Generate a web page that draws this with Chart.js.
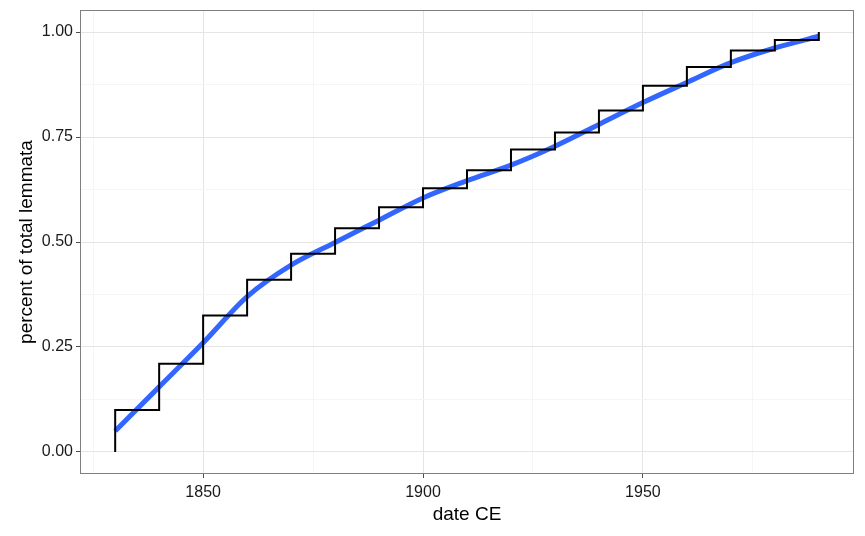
<!DOCTYPE html>
<html lang="en">
<head>
  <meta charset="UTF-8">
  <title>Lemmata by date</title>
  <script src="https://cdn.jsdelivr.net/npm/chart.js"></script>
  <style>
    html, body { margin: 0; padding: 0; background: #fff; }
    #wrap { width: 865px; height: 536px; }
  </style>
</head>
<body>
  <div id="wrap"><canvas id="chart" width="865" height="536"></canvas></div>

  <script>
    // decade steps of the cumulative share
    const years = [1830, 1840, 1850, 1860, 1870, 1880, 1890, 1900, 1910, 1920, 1930, 1940, 1950, 1960, 1970, 1980, 1990];
    const share = [0.10, 0.21, 0.325, 0.41, 0.472, 0.533, 0.583, 0.628, 0.671, 0.72, 0.761, 0.813, 0.872, 0.917, 0.956, 0.981, 1.00];
    // smoothed curve, read at the same years
    const smooth = [0.05, 0.155, 0.26, 0.37, 0.445, 0.499, 0.552, 0.605, 0.646, 0.683, 0.728, 0.78, 0.832, 0.88, 0.927, 0.962, 0.99];

    const xMajor = [1850, 1900, 1950];
    const xMinor = [1825, 1875, 1925, 1975];
    const yMajor = [0, 0.25, 0.5, 0.75, 1];
    const yMinor = [0.125, 0.375, 0.625, 0.875];

    const stepData = [{ x: years[0], y: 0 }].concat(years.map((x, i) => ({ x: x, y: share[i] })));
    const smoothData = years.map((x, i) => ({ x: x, y: smooth[i] }));

    const family = "'Liberation Sans', Arial, sans-serif";

    const panelBorder = {
      id: 'panelBorder',
      afterDatasetsDraw(chart) {
        const a = chart.chartArea, ctx = chart.ctx;
        ctx.save();
        ctx.strokeStyle = '#7f7f7f';
        ctx.lineWidth = 1;
        ctx.strokeRect(a.left + 0.5, a.top + 0.5, a.right - a.left - 1, a.bottom - a.top - 1);
        ctx.restore();
      }
    };

    function isMajor(list, v) {
      return list.some(m => Math.abs(m - v) < 1e-9);
    }

    new Chart(document.getElementById('chart'), {
      type: 'line',
      data: {
        datasets: [
          {
            data: stepData,
            stepped: 'before',
            borderColor: '#000000',
            borderWidth: 2,
            pointRadius: 0,
            fill: false
          },
          {
            data: smoothData,
            cubicInterpolationMode: 'monotone',
            borderColor: '#3366FF',
            borderWidth: 5,
            pointRadius: 0,
            fill: false
          }
        ]
      },
      options: {
        responsive: false,
        animation: false,
        layout: { padding: { left: 0, top: 10, right: 11, bottom: 0 } },
        plugins: { legend: { display: false }, tooltip: { enabled: false } },
        scales: {
          x: {
            type: 'linear',
            min: 1822,
            max: 1998,
            afterBuildTicks: s => { s.ticks = xMinor.concat(xMajor).sort((a, b) => a - b).map(v => ({ value: v })); },
            afterFit: s => { s.height = 62; s.paddingLeft = 0; s.paddingRight = 0; },
            border: { display: false },
            grid: {
              color: c => isMajor(xMajor, c.tick.value) ? '#e5e5e5' : '#f5f5f5',
              tickColor: c => isMajor(xMajor, c.tick.value) ? '#4d4d4d' : 'rgba(0,0,0,0)',
              tickLength: 4,
              lineWidth: 1
            },
            ticks: {
              color: '#1a1a1a',
              font: { family: family, size: 16 },
              padding: 5,
              maxRotation: 0,
              autoSkip: false,
              callback: v => isMajor(xMajor, v) ? String(v) : ''
            },
            title: {
              display: true,
              text: 'date CE',
              color: '#000',
              font: { family: family, size: 19 },
              padding: { top: 0, bottom: 10 }
            }
          },
          y: {
            min: -0.0525,
            max: 1.0525,
            afterBuildTicks: s => { s.ticks = yMinor.concat(yMajor).sort((a, b) => a - b).map(v => ({ value: v })); },
            afterFit: s => { s.width = 80; s.paddingTop = 0; s.paddingBottom = 0; },
            border: { display: false },
            grid: {
              color: c => isMajor(yMajor, c.tick.value) ? '#e5e5e5' : '#f5f5f5',
              tickColor: c => isMajor(yMajor, c.tick.value) ? '#4d4d4d' : 'rgba(0,0,0,0)',
              tickLength: 4,
              lineWidth: 1
            },
            ticks: {
              color: '#1a1a1a',
              font: { family: family, size: 16 },
              padding: 3,
              autoSkip: false,
              callback: v => isMajor(yMajor, v) ? v.toFixed(2) : ''
            },
            title: {
              display: true,
              text: 'percent of total lemmata',
              color: '#000',
              font: { family: family, size: 19 },
              padding: { top: 15, bottom: 0 }
            }
          }
        }
      },
      plugins: [panelBorder]
    });
  </script>
</body>
</html>
